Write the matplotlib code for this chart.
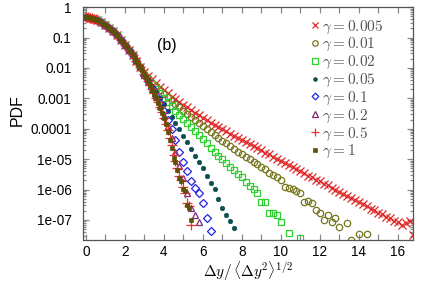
import numpy as np
import matplotlib
matplotlib.use("Agg")
import matplotlib.pyplot as plt
from matplotlib.ticker import MultipleLocator, LogLocator, NullFormatter, FixedLocator, FixedFormatter

plt.rcParams['mathtext.fontset'] = 'cm'
plt.rcParams['font.family'] = ['Liberation Sans', 'DejaVu Sans']

# bin centres (normalised increment)
x_coarse = [0.0, 0.2, 0.4, 0.6, 0.8, 1.0, 1.2, 1.4, 1.6, 1.8, 2.0, 2.2, 2.4, 2.6, 2.8,
            3.0, 3.2, 3.4, 3.6, 3.8, 4.0, 4.2, 4.4, 4.6, 4.8, 5.0, 5.2, 5.4, 5.6, 5.8,
            6.0, 6.2, 6.4, 6.6, 6.8, 7.0, 7.2, 7.4, 7.6, 7.8, 8.0, 8.2, 8.4, 8.6, 8.8,
            9.0, 9.2, 9.4, 9.6, 9.8, 10.0, 10.2, 10.4, 10.6, 10.8, 11.0, 11.2, 11.4, 11.6, 11.8,
            12.0, 12.2, 12.4, 12.6, 12.8, 13.0, 13.2, 13.4, 13.6, 13.8, 14.0, 14.2, 14.4, 14.6, 14.8,
            15.0, 15.2, 15.4, 15.6, 15.8, 16.0, 16.2, 16.4, 16.6, 16.8]
x_fine = [0.0, 0.1, 0.2, 0.3, 0.4, 0.5, 0.6, 0.7, 0.8, 0.9, 1.0, 1.1, 1.2, 1.3, 1.4,
          1.5, 1.6, 1.7, 1.8, 1.9, 2.0, 2.1, 2.2, 2.3, 2.4, 2.5, 2.6, 2.7, 2.8, 2.9,
          3.0, 3.1, 3.2, 3.3, 3.4, 3.5, 3.6, 3.7, 3.8, 3.9, 4.0, 4.1, 4.2, 4.3, 4.4,
          4.5, 4.6, 4.7, 4.8, 4.9, 5.0, 5.1, 5.2, 5.3, 5.4]

# log10(PDF), common Gaussian-like core up to 2.8 / 2.9
core_coarse = [-0.34, -0.35, -0.38, -0.43, -0.50, -0.58, -0.68, -0.80, -0.93, -1.07,
               -1.23, -1.40, -1.58, -1.77, -1.97]
core_fine = [-0.34, -0.34, -0.35, -0.36, -0.38, -0.40, -0.43, -0.46, -0.50, -0.54,
             -0.58, -0.63, -0.68, -0.74, -0.80, -0.86, -0.93, -1.00, -1.07, -1.15,
             -1.23, -1.31, -1.40, -1.49, -1.58, -1.67, -1.77, -1.87, -1.97, -2.08]

nan = np.nan
tail_g0005 = [-2.12, -2.25, -2.38, -2.50, -2.62, -2.73, -2.84, -2.94, -3.03, -3.12,
              -3.21, -3.30, -3.39, -3.48, -3.56, -3.64, -3.72, -3.80, -3.88, -3.95,
              -4.02, -4.09, -4.16, -4.23, -4.30, -4.37, -4.44, -4.50, -4.58, -4.64,
              -4.71, -4.79, -4.84, -4.92, -4.99, -5.05, -5.11, -5.20, -5.25, -5.33,
              -5.39, -5.45, -5.54, -5.59, -5.67, -5.73, -5.81, -5.86, -5.95, -6.00,
              -6.08, -6.13, -6.22, -6.27, -6.35, -6.41, -6.49, -6.54, -6.63, -6.67,
              -6.76, -6.81, -6.90, -6.95, -7.04, -7.08, -7.16, -7.10, -7.05, -7.48]
tail_g001 = [-2.20, -2.34, -2.48, -2.61, -2.73, -2.85, -2.96, -3.07, -3.18, -3.29,
             -3.40, -3.51, -3.62, -3.72, -3.82, -3.92, -4.02, -4.12, -4.21, -4.30,
             -4.39, -4.48, -4.57, -4.66, -4.75, -4.84, -4.92, -5.01, -5.09, -5.17,
             -5.26, -5.34, -5.44, -5.51, -5.60, -5.69, -5.93, -5.96, -5.99, -6.05,
             -6.12, -6.40, -6.36, -6.45, -6.68, -6.78, -7.00, -6.84, -7.07, -6.92,
             -7.24, nan, -7.10, -7.66, nan, -7.47, nan, -7.47]
tail_g002 = [-2.22, -2.38, -2.54, -2.69, -2.84, -2.98, -3.12, -3.26, -3.40, -3.54,
             -3.67, -3.81, -3.94, -4.08, -4.21, -4.35, -4.48, -4.62, -4.75, -4.88,
             -5.00, -5.13, -5.25, -5.37, -5.49, -5.60, -5.75, -5.88, -5.97, -6.12,
             -6.41, -6.40, -6.78, -6.78, -6.82, -7.07, nan, -7.43, nan, nan, -7.60]
tail_g005 = [-2.22, -2.41, -2.60, -2.80, -3.00, -3.20, -3.40, -3.60, -3.81, -4.02,
             -4.24, -4.45, -4.68, -4.88, -5.10, -5.30, -5.55, -5.78, -5.98, -6.30,
             -6.62, -6.85, -7.02, -7.27]
tail_g01 = [-2.22, -2.44, -2.67, -2.91, -3.16, -3.42, -3.70, -4.00, -4.38, -4.75,
            -5.10, -5.40, -5.72, -5.95, -6.12, -6.45, -6.95, -7.35]
tail_g02 = [-2.22, -2.45, -2.70, -2.97, -3.26, -3.57, -3.92, -4.32, -4.76, -5.22,
            -5.62, -6.12, -6.62, -6.84, -7.08]
tail_g05 = [-2.19, -2.31, -2.43, -2.56, -2.70, -2.84, -2.98, -3.13, -3.29, -3.46,
            -3.63, -3.83, -4.05, -4.30, -4.55, -4.85, -5.05, -5.28, -5.55, -5.68,
            -5.90, -6.10, -6.45, -6.55, -7.17]
tail_g1 = [-2.19, -2.31, -2.44, -2.57, -2.71, -2.85, -3.00, -3.15, -3.31, -3.48,
           -3.66, -3.86, -4.12, -4.38, -4.62, -4.95, -5.10, -5.35, -5.62, -5.72,
           -5.97, -6.05, -6.50, -6.62, -7.00]

gamma_labels = ['0.005', '0.01', '0.02', '0.05', '0.1', '0.2', '0.5', '1']
ytick_vals = [1, 0.1, 0.01, 0.001, 0.0001, 1e-05, 1e-06, 1e-07]
ytick_labels = ['1', '0.1', '0.01', '0.001', '0.0001', '1e-05', '1e-06', '1e-07']

series = [
    (x_coarse, core_coarse + tail_g0005, dict(marker='x', color='#e02828', ms=5.5, mew=0.9, mfc='none')),
    (x_coarse, core_coarse + tail_g001, dict(marker='o', color='#76761e', ms=4.6, mew=0.9, mfc='none')),
    (x_coarse, core_coarse + tail_g002, dict(marker='s', color='#30d030', ms=4.4, mew=0.9, mfc='none')),
    (x_coarse, core_coarse + tail_g005, dict(marker='o', color='#0d5050', ms=3.2, mew=0.5)),
    (x_coarse, core_coarse + tail_g01, dict(marker='D', color='#2424e0', ms=4.0, mew=0.9, mfc='none')),
    (x_coarse, core_coarse + tail_g02, dict(marker='^', color='#7a2878', ms=4.6, mew=0.9, mfc='none')),
    (x_fine, core_fine + tail_g05, dict(marker='+', color='#ee3030', ms=7.0, mew=0.9)),
    (x_fine, core_fine + tail_g1, dict(marker='s', color='#5a5208', ms=3.4, mew=0.5)),
]

fig = plt.figure(figsize=(4.36, 2.85), dpi=100)
ax = fig.add_axes([0.190, 0.158, 0.757, 0.817])

for (xs, ys, style), lab in zip(series, gamma_labels):
    n = min(len(xs), len(ys))
    ax.semilogy(np.array(xs[:n]), 10 ** np.array(ys[:n]), linestyle='none',
                label=r'$\gamma = %s$' % lab, **style)

ax.set_xlim(-0.15, 16.77)
ax.set_ylim(2.2e-8, 1)

ax.xaxis.set_major_locator(MultipleLocator(2))
ax.xaxis.set_minor_locator(MultipleLocator(1))
ax.yaxis.set_major_locator(FixedLocator(ytick_vals))
ax.yaxis.set_major_formatter(FixedFormatter(ytick_labels))
ax.yaxis.set_minor_locator(LogLocator(base=10, subs=np.arange(2, 10), numticks=20))
ax.yaxis.set_minor_formatter(NullFormatter())

ax.tick_params(which='both', direction='in', top=True, right=True, color='#888888',
               labelsize=9.8, width=0.9)
ax.tick_params(axis='x', which='both', length=4.5, pad=3.5)
ax.tick_params(axis='y', which='major', length=4.5, pad=8)
ax.tick_params(axis='y', which='minor', length=2.5)
for sp in ax.spines.values():
    sp.set_color('#555555')
    sp.set_linewidth(0.9)

ax.set_ylabel('PDF', fontsize=11.5)
ax.yaxis.set_label_coords(-0.175, 0.56)
ax.set_xlabel(r'$\Delta y/\,\langle\Delta y^2\rangle^{1/2}$', fontsize=11, labelpad=0.5)

ax.text(0.255, 0.835, '(b)', transform=ax.transAxes, fontsize=11.5, ha='center', va='center')

leg = ax.legend(loc='upper right', bbox_to_anchor=(0.943, 0.998), frameon=False,
                fontsize=11, handlelength=0.6, handletextpad=0.16, labelspacing=0.03,
                borderpad=0.2, markerscale=0.85)
for t in leg.get_texts():
    t.set_color('#555555')

fig.savefig('out.png', dpi=100)
